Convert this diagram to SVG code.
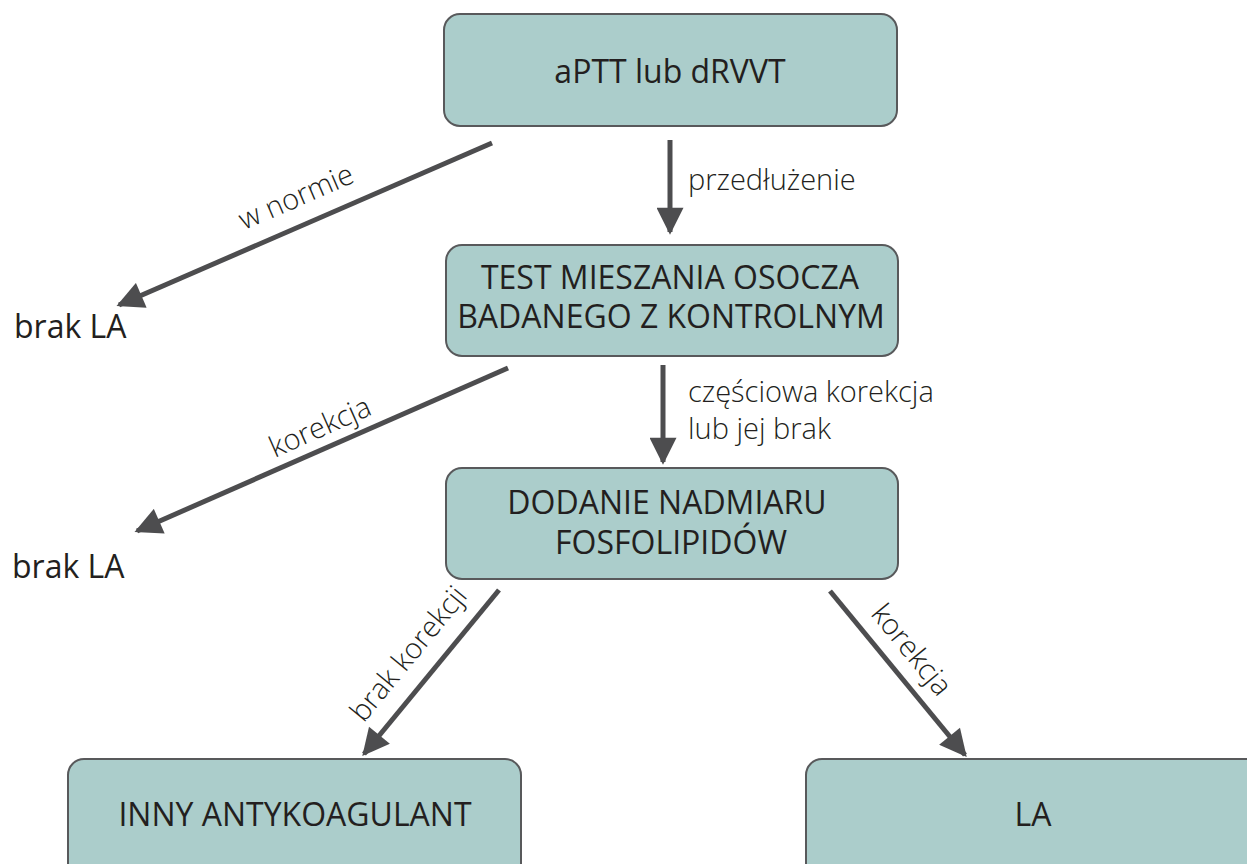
<svg xmlns="http://www.w3.org/2000/svg" width="1247" height="864" viewBox="0 0 1247 864">
<defs>
<style>
.box{fill:#abcdcb;stroke:#58595b;stroke-width:2}
.t{font-family:"Open Sans","Noto Sans",sans-serif;fill:#231f20}
.nt{font-size:32px;text-anchor:middle}
.lb{font-size:29px;font-weight:300}
.bl{font-size:32px}
.conn{stroke:#4d4d4f;stroke-width:5;fill:none}
</style>
<marker id="ah" viewBox="0 0 10 10" refX="9" refY="5" markerWidth="5.6" markerHeight="5.4" markerUnits="strokeWidth" orient="auto">
<path d="M0,0 L10,5 L0,10 z" fill="#4d4d4f"/>
</marker>
</defs>
<rect width="1247" height="864" fill="#ffffff"/>
<g id="connectors">
<line class="conn" x1="670" y1="140" x2="670" y2="232" marker-end="url(#ah)"/>
<line class="conn" x1="492" y1="143" x2="119" y2="305" marker-end="url(#ah)"/>
<line class="conn" x1="508" y1="368" x2="137" y2="531" marker-end="url(#ah)"/>
<line class="conn" x1="663" y1="365" x2="663" y2="462" marker-end="url(#ah)"/>
<line class="conn" x1="499" y1="590" x2="364" y2="754" marker-end="url(#ah)"/>
<line class="conn" x1="830" y1="591" x2="965" y2="755" marker-end="url(#ah)"/>
<text class="t lb" x="688" y="190">przedłużenie</text>
<text class="t lb" text-anchor="middle" transform="translate(300,206) rotate(-23.5)">w normie</text>
<text class="t lb" text-anchor="middle" transform="translate(324,436) rotate(-24)">korekcja</text>
<text class="t lb" x="688" y="402">częściowa korekcja</text>
<text class="t lb" x="688" y="439">lub jej brak</text>
<text class="t lb" text-anchor="middle" transform="translate(416,660) rotate(-50.5)">brak korekcji</text>
<text class="t lb" text-anchor="middle" transform="translate(904,656) rotate(50.7)">korekcja</text>
</g>
<g id="n1"><rect class="box" x="444" y="14" width="453" height="112" rx="16"/><text class="t nt" x="670" y="83">aPTT lub dRVVT</text></g>
<g id="n2"><rect class="box" x="446" y="245" width="452" height="111" rx="16"/><text class="t nt" x="670" y="289">TEST MIESZANIA OSOCZA</text><text class="t nt" x="671" y="328">BADANEGO Z KONTROLNYM</text></g>
<g id="n3"><rect class="box" x="446" y="468" width="452" height="111" rx="16"/><text class="t nt" x="667" y="514">DODANIE NADMIARU</text><text class="t nt" x="671" y="554">FOSFOLIPIDÓW</text></g>
<g id="n4"><text class="t bl" x="14" y="338">brak LA</text></g>
<g id="n5"><text class="t bl" x="12" y="578">brak LA</text></g>
<g id="n6"><rect class="box" x="68" y="759" width="453" height="120" rx="16"/><text class="t nt" x="295" y="826">INNY ANTYKOAGULANT</text></g>
<g id="n7"><rect class="box" x="806" y="759" width="460" height="120" rx="16"/><text class="t nt" x="1033" y="826">LA</text></g>
</svg>
